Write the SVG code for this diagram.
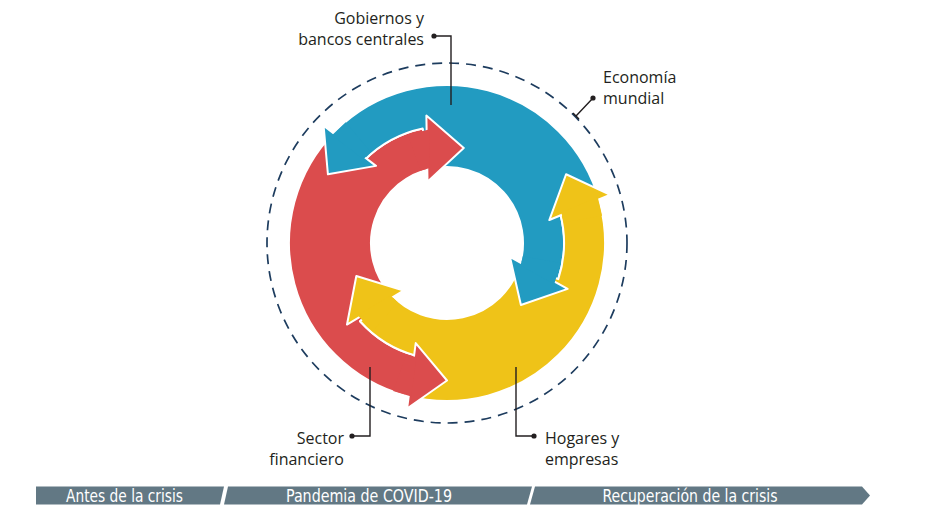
<svg xmlns="http://www.w3.org/2000/svg" width="929" height="526" viewBox="0 0 929 526">
<style>
.lbl{font-family:"Open Sans","Noto Sans",sans-serif;font-size:16px;fill:#231f20}
.end{text-anchor:end}
.bar{fill:#627884}
.bartxt{font-family:"Liberation Sans Narrow","DejaVu Sans Condensed","Open Sans",sans-serif;font-size:17.5px;fill:#ffffff;text-anchor:middle}
.lead{fill:none;stroke:#231f20;stroke-width:1.4}
.dot{fill:#231f20}
.edge{stroke:#ffffff;stroke-width:2;stroke-linejoin:round}
.red{fill:#db4c4d}
.blue{fill:#229bc1}
.yellow{fill:#efc318}
</style>
<defs>
<path id="body" d="M-40.89 152.62 A158 158 0 0 1 -111.72 -111.72 L-82.73 -82.73 A117 117 0 0 1 -24.33 -114.44 L-15.80 -74.34 A76 76 0 0 0 -56.48 50.85 L-86.95 78.29 A117 117 0 0 0 -30.28 113.01 Z"/>
<path id="heads" d="M0 137.5 L-39.90 165.53 L-31.28 100.09 Z M16.76 -95.03 L-20.63 -127.39 L-19.49 -61.39 Z"/>
<path id="patches" d="M-30.63 114.30 L-35.79 153.46 L-53.87 148.00 L-40.53 111.35 Z M-17.89 -113.43 L-17.22 -74.93 L-26.34 -72.36 L-39.50 -108.53 Z"/>
</defs>
<circle id="economia-mundial-ring" cx="447" cy="243" r="180" fill="none" stroke="#1d3c5e" stroke-width="1.7" stroke-dasharray="10 7"/>
<g id="cycle" transform="translate(447 243)">
  <g id="bodies" class="edge">
    <use href="#body" class="red"/>
    <use href="#body" class="blue" transform="rotate(120)"/>
    <use href="#body" class="yellow" transform="rotate(240)"/>
  </g>
  <g id="arrowheads" class="edge">
    <use href="#heads" class="red"/>
    <use href="#heads" class="blue" transform="rotate(120)"/>
    <use href="#heads" class="yellow" transform="rotate(240)"/>
  </g>
  <g id="joins">
    <use href="#patches" class="red"/>
    <use href="#patches" class="blue" transform="rotate(120)"/>
    <use href="#patches" class="yellow" transform="rotate(240)"/>
  </g>
</g>
<g id="connectors">
  <path class="lead" d="M434 36 H451 V105"/>
  <path class="lead" d="M593 98 L576 116 M573 113 L579 119"/>
  <path class="lead" d="M352 436 H370 V367"/>
  <path class="lead" d="M534 436 H516 V367"/>
  <circle class="dot" cx="434" cy="36" r="2.6"/>
  <circle class="dot" cx="593" cy="98" r="2.6"/>
  <circle class="dot" cx="352" cy="436" r="2.6"/>
  <circle class="dot" cx="534" cy="436" r="2.6"/>
</g>
<g id="label-gobiernos">
  <text class="lbl end" x="424" y="24">Gobiernos y</text>
  <text class="lbl end" x="424" y="45">bancos centrales</text>
</g>
<g id="label-economia">
  <text class="lbl" x="603" y="83">Economía</text>
  <text class="lbl" x="603" y="104">mundial</text>
</g>
<g id="label-sector">
  <text class="lbl end" x="344" y="444">Sector</text>
  <text class="lbl end" x="344" y="465">financiero</text>
</g>
<g id="label-hogares">
  <text class="lbl" x="545" y="444">Hogares y</text>
  <text class="lbl" x="545" y="465">empresas</text>
</g>
<g id="timeline">
  <g id="phase-antes">
    <polygon class="bar" points="36,486.5 224,486.5 220,504.5 36,504.5"/>
    <text class="bartxt" x="124.5" y="502" textLength="117" lengthAdjust="spacingAndGlyphs">Antes de la crisis</text>
  </g>
  <g id="phase-pandemia">
    <polygon class="bar" points="228,486.5 532,486.5 527,504.5 224,504.5"/>
    <text class="bartxt" x="369" y="502" textLength="166" lengthAdjust="spacingAndGlyphs">Pandemia de COVID-19</text>
  </g>
  <g id="phase-recuperacion">
    <polygon class="bar" points="535,486.5 862,486.5 870,495.5 862,504.5 530,504.5"/>
    <text class="bartxt" x="690" y="502" textLength="175" lengthAdjust="spacingAndGlyphs">Recuperación de la crisis</text>
  </g>
</g>
</svg>
